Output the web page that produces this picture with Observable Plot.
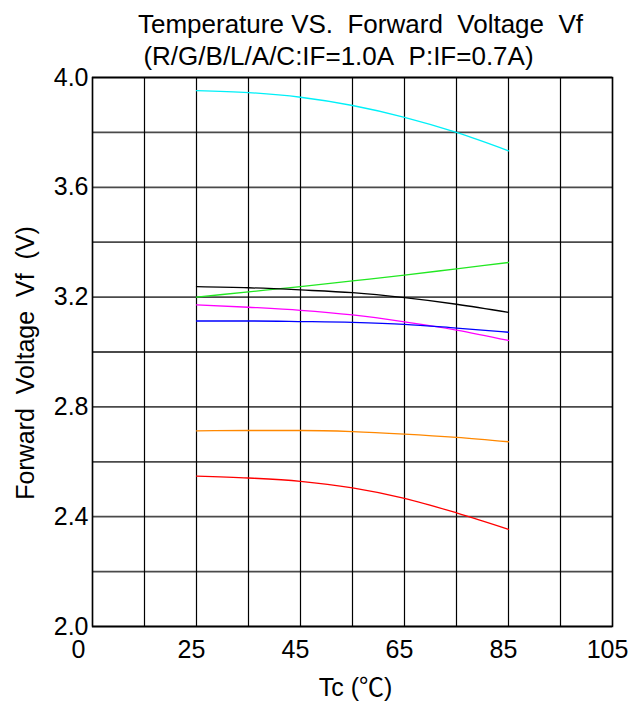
<!DOCTYPE html>
<html>
<head>
<meta charset="utf-8">
<script src="https://cdn.jsdelivr.net/npm/d3@7"></script>
<script src="https://cdn.jsdelivr.net/npm/@observablehq/plot@0.6"></script>
<style>
  html, body { margin: 0; padding: 0; background: #fff; }
  #chart svg { display: block; }
</style>
</head>
<body>
<div id="chart"></div>
<script>
// Case temperature (°C) at which forward voltage was measured
const temps = [25, 35, 45, 55, 65, 75, 85];

// Forward voltage Vf (V) per chip colour
const vfCyan    = [3.952, 3.945, 3.928, 3.898, 3.855, 3.800, 3.733];
const vfGreen   = [3.200, 3.219, 3.238, 3.259, 3.280, 3.303, 3.326];
const vfBlack   = [3.238, 3.234, 3.226, 3.216, 3.198, 3.174, 3.144];
const vfMagenta = [3.172, 3.163, 3.152, 3.135, 3.110, 3.080, 3.042];
const vfBlue    = [3.113, 3.113, 3.111, 3.108, 3.101, 3.087, 3.072];
const vfOrange  = [2.713, 2.714, 2.714, 2.710, 2.701, 2.689, 2.673];
const vfRed     = [2.548, 2.541, 2.529, 2.505, 2.467, 2.414, 2.354];

const seriesNames  = ["C", "G", "L", "P", "B", "A", "R"];
const seriesValues = [vfCyan, vfGreen, vfBlack, vfMagenta, vfBlue, vfOrange, vfRed];
const seriesColors = ["#00f0f8", "#22e822", "#000000", "#ff00ff", "#0000ff", "#ff8800", "#ff0000"];

// Axis ticks and grid
const xGrid = d3.range(5, 106, 10);
const xTickValues = [5, 25, 45, 65, 85, 105];
const xTickLabels = ["0", "25", "45", "65", "85", "105"];
const yGrid = d3.range(0, 11).map(i => 2 + i * 0.2);
const yTickValues = [2.0, 2.4, 2.8, 3.2, 3.6, 4.0];

const titleText = "Temperature VS.\u00a0 Forward\u00a0 Voltage\u00a0 Vf";
const subtitleText = "(R/G/B/L/A/C:IF=1.0A\u00a0 P:IF=0.7A)";
const yLabelText = "Forward\u00a0 Voltage\u00a0 Vf\u00a0 (V)";
const xLabelText = "Tc (\u2103)";

const rows = seriesNames.flatMap((name, i) =>
  temps.map((t, j) => ({series: name, tc: t, vf: seriesValues[i][j]}))
);

const font = "'Liberation Sans', Arial, 'Noto Sans CJK SC', sans-serif";

const chart = Plot.plot({
  width: 644,
  height: 704,
  marginLeft: 92,
  marginRight: 32,
  marginTop: 77,
  marginBottom: 78,
  x: {domain: [5, 105], axis: null},
  y: {domain: [2, 4], axis: null},
  color: {domain: seriesNames, range: seriesColors},
  style: {fontFamily: font, fontSize: "25px", background: "#fff", color: "#000"},
  marks: [
    Plot.gridY(yGrid, {stroke: "#4a4a4a", strokeOpacity: 1, strokeWidth: 1.8}),
    Plot.gridX(xGrid, {stroke: "#000", strokeOpacity: 1, strokeWidth: 1.2}),
    Plot.frame({stroke: "#000", strokeWidth: 1.5}),
    Plot.line(rows, {x: "tc", y: "vf", z: "series", stroke: "series", curve: "monotone-x", strokeWidth: 1.3}),
    // y tick labels
    Plot.axisY(yTickValues, {tickSize: 0, tickPadding: 4, tickFormat: d => d.toFixed(1), fontSize: 25, label: null}),
    // x tick labels
    Plot.text(xTickValues.slice(0, 1), {x: d => d, text: (d, i) => xTickLabels[i], frameAnchor: "bottom", lineAnchor: "top", dy: 14, dx: -14, fontSize: 25}),
    Plot.text(xTickValues.slice(1), {x: d => d, text: (d, i) => xTickLabels[i + 1], frameAnchor: "bottom", lineAnchor: "top", dy: 14, dx: -5, fontSize: 25}),
    // titles and axis labels
    Plot.text([titleText], {text: d => d, frameAnchor: "top", textAnchor: "middle", lineAnchor: "bottom", dy: -45, dx: 8, fontSize: 26}),
    Plot.text([subtitleText], {text: d => d, frameAnchor: "top", textAnchor: "middle", lineAnchor: "bottom", dy: -13, dx: -14, fontSize: 26}),
    Plot.text([yLabelText], {text: d => d, frameAnchor: "left", textAnchor: "middle", lineAnchor: "bottom", rotate: -90, dx: -59, dy: 11, fontSize: 25}),
    Plot.text([xLabelText], {text: d => d, frameAnchor: "bottom", textAnchor: "middle", lineAnchor: "bottom", dy: 69, dx: 3, fontSize: 25})
  ]
});

document.getElementById("chart").append(chart);
</script>
</body>
</html>
